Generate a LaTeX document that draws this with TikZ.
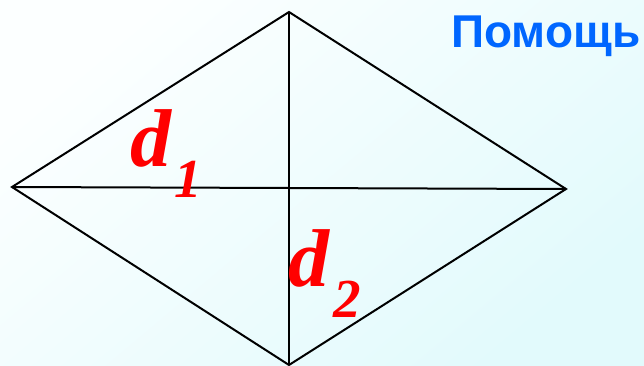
\documentclass[tikz,border=0pt]{standalone}
\usepackage{fontspec}
\setmainfont{Liberation Serif}
\newfontfamily\helpfont{Liberation Sans}
\definecolor{helpblue}{RGB}{0,102,255}
\definecolor{bgcyan}{RGB}{226,250,252}
\definecolor{bglight}{RGB}{252,255,255}
\tikzset{
  edge/.style={line width=2pt, line join=miter},
  dlabel/.style={text=red, inner sep=0pt, anchor=base west, font=\bfseries\itshape\fontsize{82}{82}\selectfont},
  sublabel/.style={text=red, inner sep=0pt, anchor=base west, font=\bfseries\itshape\fontsize{55}{55}\selectfont},
}
\begin{document}
\begin{tikzpicture}[x=1pt,y=-1pt]
\shade[top color=bglight, bottom color=bgcyan, shading angle=40] (0,0) rectangle (644,366);
\useasboundingbox (0,0) rectangle (644,366);
\coordinate (T) at (289,12);
\coordinate (L) at (12,187);
\coordinate (R) at (566,189);
\coordinate (B) at (289,365);
\draw[edge] (T) -- (R) -- (B) -- (L) -- cycle;
\draw[edge] (L) -- (R);
\draw[edge] (T) -- (B);
\node[dlabel] (d1) at (130,166) {d};
\node[sublabel] (s1) at (174,197) {1};
\node[dlabel] (d2) at (288,286) {d};
\node[sublabel] (s2) at (333,317) {2};
\node[text=helpblue, inner sep=0pt, anchor=base west, font=\helpfont\bfseries\fontsize{46}{46}\selectfont] (help) at (451,48) {Помощь};
\end{tikzpicture}
\end{document}
